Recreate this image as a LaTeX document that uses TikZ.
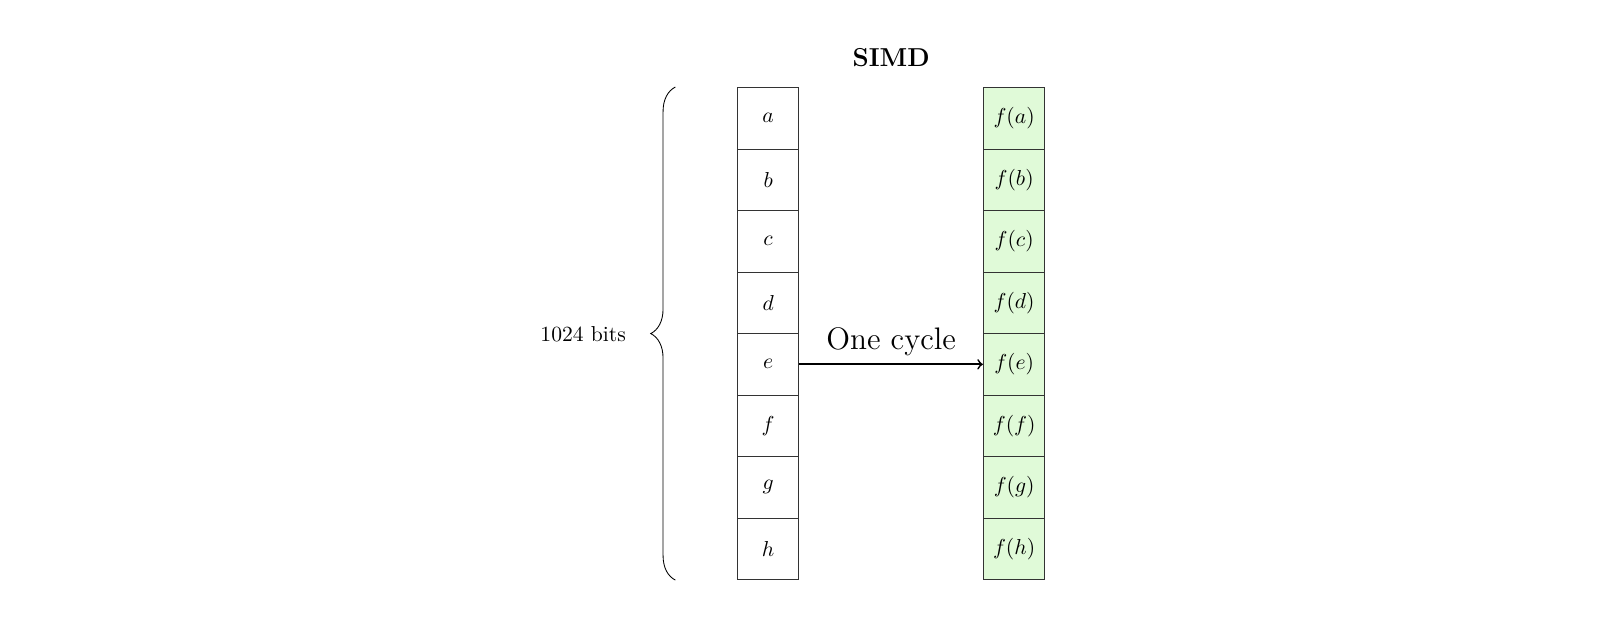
\documentclass[tikz,border=0pt]{standalone}
\usetikzlibrary{decorations.pathreplacing,positioning}
\definecolor{cellgreen}{RGB}{224,250,216}
\begin{document}
\begin{tikzpicture}[
  cell/.style={draw=black!80, minimum width=1cm, minimum height=1cm, inner sep=0pt, anchor=north, line width=0.5pt},
  incell/.style={cell, fill=white},
  outcell/.style={cell, fill=cellgreen},
]
\useasboundingbox (0,0) rectangle (26.016,-10.244);
\node[font=\large\bfseries] (title) at (14.49,-0.93) {SIMD};
\foreach \l [count=\i] in {a,b,c,d,e,f,g,h} {
  \node[incell] (in\i) at (12.49,{-1.415-(\i-1)}) {$\l$};
  \node[outcell] (out\i) at (16.49,{-1.415-(\i-1)}) {$f(\l)$};
}
\draw[decorate, decoration={brace, amplitude=0.4cm, mirror}]
  ([xshift=-1cm]in1.north west) coordinate (btop) -- ([xshift=-1cm]in8.south west) coordinate (bbot);
\node[anchor=east] (bits) at (10.30,-5.43) {1024 bits};
\draw[->, thick] (in5.east) -- node[above, font=\Large] {One cycle} (out5.west);
\end{tikzpicture}
\end{document}
